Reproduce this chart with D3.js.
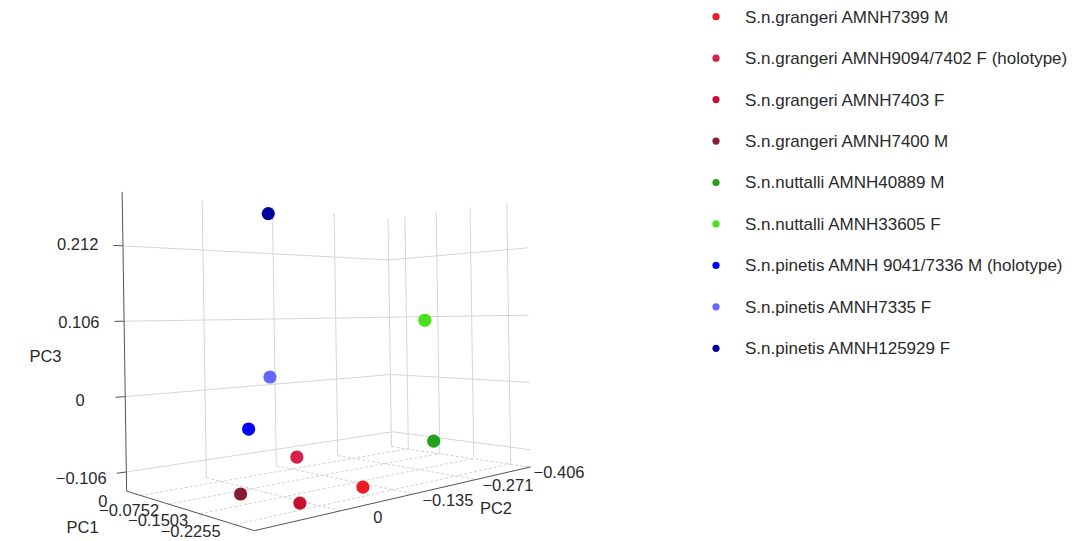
<!DOCTYPE html>
<html>
<head>
<meta charset="utf-8">
<script src="https://cdn.jsdelivr.net/npm/d3@7"></script>
<style>
  body { margin: 0; background: #fff; }
  svg { display: block; }
  text { font-family: "Liberation Sans", Arial, Helvetica, sans-serif; fill: #2a2a2a; }
</style>
</head>
<body>
<svg id="chart" width="1079" height="541"></svg>
<script>
// Specimens and their principal-component scores
const specimens = [
  "S.n.grangeri AMNH7399 M",
  "S.n.grangeri AMNH9094/7402 F (holotype)",
  "S.n.grangeri AMNH7403 F",
  "S.n.grangeri AMNH7400 M",
  "S.n.nuttalli AMNH40889 M",
  "S.n.nuttalli AMNH33605 F",
  "S.n.pinetis AMNH 9041/7336 M (holotype)",
  "S.n.pinetis AMNH7335 F",
  "S.n.pinetis AMNH125929 F"
];
const pc1 = [-0.210, -0.070, -0.222, -0.143, -0.105, -0.084, -0.066, -0.160, -0.125];
const pc2 = [-0.091, -0.089, 0.031, 0.066, -0.359, -0.365, -0.004, 0.028, 0.000];
const pc3 = [-0.125, -0.100, -0.125, -0.120, -0.103, 0.100, -0.050, 0.030, 0.250];
const colors = ["#ec1c24", "#d81f49", "#c8102e", "#871c33", "#24a11a", "#49e01c", "#0000ff", "#6666ff", "#00009c"];

// Axis ranges and ticks
const pc1Range = [-0.264, 0.040];
const pc2Range = [-0.409, 0.133];
const pc3Range = [-0.133, 0.288];
const pc1Ticks = [0, -0.0752, -0.1503, -0.2255];
const pc2Ticks = [0, -0.135, -0.271, -0.406];
const pc3Ticks = [-0.106, 0, 0.106, 0.212];
const pc1Labels = ["0", "\u22120.0752", "\u22120.1503", "\u22120.2255"];
const pc2Labels = ["0", "\u22120.135", "\u22120.271", "\u22120.406"];
const pc3Labels = ["\u22120.106", "0", "0.106", "0.212"];

const svg = d3.select("#chart");

// World space: a box with fixed half-lengths along PC1, PC2, PC3
const boxHalf = [0.139, 0.285, 0.2105];
const X = d3.scaleLinear().domain(pc1Range).range([-boxHalf[0], boxHalf[0]]);
const Y = d3.scaleLinear().domain(pc2Range).range([-boxHalf[1], boxHalf[1]]);
const Z = d3.scaleLinear().domain(pc3Range).range([-boxHalf[2], boxHalf[2]]);
const toWorld = p => [X(p[0]), Y(p[1]), Z(p[2])];

// Perspective camera
const camera = {
  eye: [-0.826, 0.8615, 0.0285],
  heading: -38.18 * Math.PI / 180,
  pitch: 0,
  roll: -0.015,
  focal: 792.8,
  cx: 226, cy: 319.7
};
const ch = Math.cos(camera.heading), sh = Math.sin(camera.heading);
const cp = Math.cos(camera.pitch), sp = Math.sin(camera.pitch);
const fwd = [ch * cp, sh * cp, -sp];
const right = [sh, -ch, 0];
const up = [ch * sp, sh * sp, cp];
const dot = (a, b) => a[0] * b[0] + a[1] * b[1] + a[2] * b[2];
const rel = w => [w[0] - camera.eye[0], w[1] - camera.eye[1], w[2] - camera.eye[2]];

function depthOf(w) { return dot(rel(w), fwd); }
function projectWorld(w) {
  const d = rel(w);
  const depth = dot(d, fwd);
  const sx = camera.focal * dot(d, right) / depth;
  const sy = -camera.focal * dot(d, up) / depth;
  const cr = Math.cos(camera.roll), sr = Math.sin(camera.roll);
  return [camera.cx + sx * cr - sy * sr, camera.cy + sx * sr + sy * cr];
}
const project = p => projectWorld(toWorld(p));
const line = d3.line();
const seg = (a, b) => line([project(a), project(b)]);
const addW = (w, o, k = 1) => [w[0] + o[0] * k, w[1] + o[1] * k, w[2] + o[2] * k];

const [x0, x1] = pc1Range, [y0, y1] = pc2Range, [z0, z1] = pc3Range;
const gGrid = svg.append("g");

// Back wall at PC1 = max
pc2Ticks.forEach(t => gGrid.append("path").attr("d", seg([x1, t, z0], [x1, t, z1])));
pc3Ticks.forEach(t => gGrid.append("path").attr("d", seg([x1, y1, t], [x1, y0, t])));
// Back wall at PC2 = min
pc1Ticks.forEach(t => gGrid.append("path").attr("d", seg([t, y0, z0], [t, y0, z1])));
pc3Ticks.forEach(t => gGrid.append("path").attr("d", seg([x1, y0, t], [x0, y0, t])));
gGrid.selectAll("path").attr("fill", "none").attr("stroke", "#d6d6d6").attr("stroke-width", 1);

// Floor grid
const gFloor = svg.append("g");
pc1Ticks.forEach(t => gFloor.append("path").attr("d", seg([t, y1, z0], [t, y0, z0])));
pc2Ticks.forEach(t => gFloor.append("path").attr("d", seg([x1, t, z0], [x0, t, z0])));
gFloor.selectAll("path").attr("fill", "none").attr("stroke", "#d2d2d2")
  .attr("stroke-width", 1).attr("stroke-dasharray", "3,2");

// Axis lines
const gAxis = svg.append("g").attr("fill", "none").attr("stroke", "#555").attr("stroke-width", 1);
gAxis.append("path").attr("d", seg([x1, y1, z0], [x1, y1, z1]));
gAxis.append("path").attr("d", seg([x1, y1, z0], [x0, y1, z0]));
gAxis.append("path").attr("d", seg([x0, y1, z0], [x0, y0, z0]));

// Tick labels, placed in world space just outside the axis they belong to
const off3 = [0.0041, 0.0684, 0];
const off1 = [0.032, 0.0406, -0.007];
const off2 = [-0.0284, -0.0362, -0.009];

const gLab = svg.append("g").attr("font-size", 16.5).attr("text-anchor", "middle");
const label = (w, txt) => {
  const p = projectWorld(w);
  gLab.append("text").attr("x", p[0]).attr("y", p[1]).attr("dy", "0.35em").text(txt);
};
pc3Ticks.forEach((t, i) => {
  const base = toWorld([x1, y1, t]);
  gAxis.append("path").attr("d", line([projectWorld(base), projectWorld(addW(base, off3, 0.22))]));
  label(addW(base, off3), pc3Labels[i]);
});
pc1Ticks.forEach((t, i) => label(addW(toWorld([t, y1, z0]), off1), pc1Labels[i]));
pc2Ticks.forEach((t, i) => label(addW(toWorld([x0, t, z0]), off2), pc2Labels[i]));

// Axis titles
label(addW([0, boxHalf[1], -boxHalf[2]], [0.005, 0.14, 0]), "PC1");
label(addW([-boxHalf[0], 0, -boxHalf[2]], [-0.118, -0.008, 0]), "PC2");
label(addW([boxHalf[0], boxHalf[1], 0], [0, 0.12, -0.0155]), "PC3");

// Specimen markers, drawn far to near
const pts = specimens.map((name, i) => ({ name, color: colors[i], w: toWorld([pc1[i], pc2[i], pc3[i]]) }));
pts.forEach(d => { d.depth = depthOf(d.w); d.xy = projectWorld(d.w); });
svg.append("g").selectAll("circle")
  .data(pts.slice().sort((a, b) => b.depth - a.depth))
  .join("circle")
  .attr("cx", d => d.xy[0]).attr("cy", d => d.xy[1])
  .attr("r", 6.6).attr("fill", d => d.color);

// Legend
const legend = svg.append("g").attr("transform", "translate(716,16.7)");
const item = legend.selectAll("g").data(pts).join("g")
  .attr("transform", (d, i) => `translate(0,${i * 41.45})`);
item.append("circle").attr("r", 3.6).attr("fill", d => d.color);
item.append("text").attr("x", 29).attr("dy", "0.35em").attr("font-size", 17).text(d => d.name);
</script>
</body>
</html>
